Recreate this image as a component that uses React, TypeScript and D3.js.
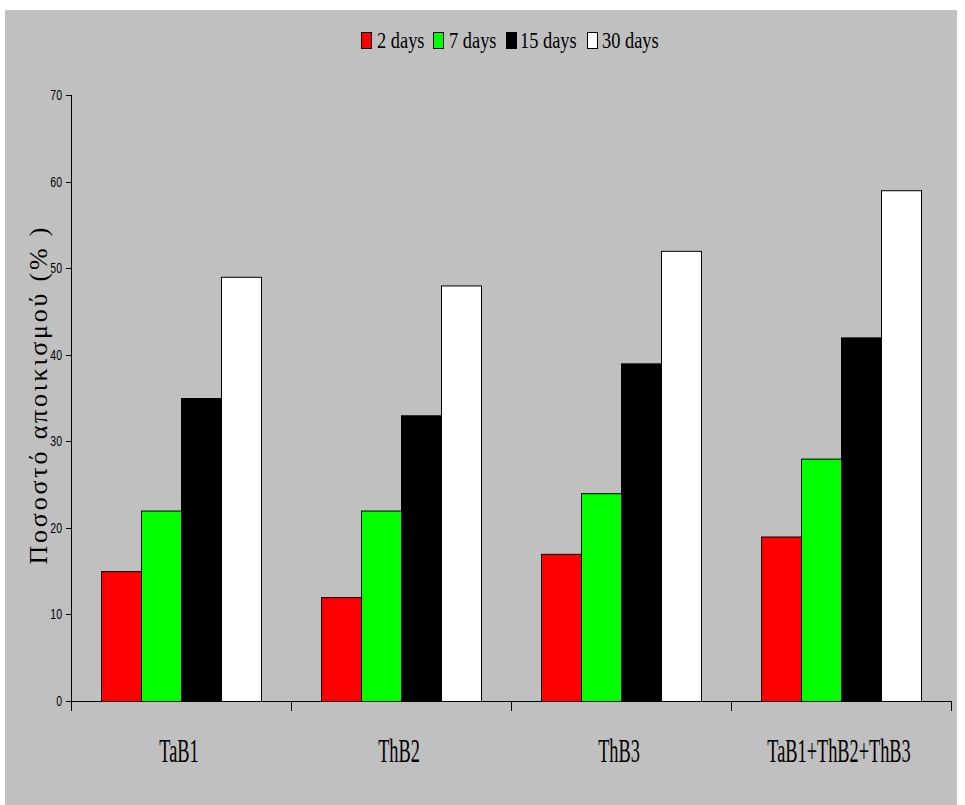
import React from 'react';
import * as d3 from 'd3';

// values
const categories = ['TaB1', 'ThB2', 'ThB3', 'TaB1+ThB2+ThB3'];
const seriesNames = ['2 days', '7 days', '15 days', '30 days'];
const seriesColors = ['#ff0000', '#00ff00', '#000000', '#ffffff'];
const values: number[][] = [
  [15, 12, 17, 19], // 2 days
  [22, 22, 24, 28], // 7 days
  [35, 33, 39, 42], // 15 days
  [49, 48, 52, 59], // 30 days
];
const yTicks = [0, 10, 20, 30, 40, 50, 60, 70];
const yTitle = 'Ποσοστό αποικισμού (% )';

const W = 965;
const H = 805;
const serif = '"Liberation Serif", "Times New Roman", serif';
const sans = '"Liberation Sans", Arial, sans-serif';

const App: React.FC = () => {
  const plot = { left: 71, right: 951, top: 95, bottom: 701 };

  const y = d3.scaleLinear().domain([0, 70]).range([plot.bottom, plot.top]);
  const x0 = d3.scaleBand<string>().domain(categories).range([plot.left, plot.right]).padding(0);
  const x1 = d3.scaleBand<string>()
    .domain(seriesNames)
    .range([0, x0.bandwidth()])
    .paddingInner(0)
    .paddingOuter(0.75);

  const legendItems = [
    { sx: 361, tx: 377 },
    { sx: 433, tx: 449 },
    { sx: 506, tx: 520 },
    { sx: 587, tx: 602 },
  ];

  return (
    <svg
      width={W}
      height={H}
      style={{ position: 'absolute', left: 0, top: 0, display: 'block', background: '#ffffff' }}
    >
      <rect x={5} y={10} width={952} height={795} fill="#c0c0c0" />

      {/* legend */}
      {seriesNames.map((name, i) => (
        <g key={name}>
          <rect
            x={legendItems[i].sx + 0.5}
            y={32.5}
            width={10}
            height={16}
            fill={seriesColors[i]}
            stroke="#000"
            strokeWidth={1}
          />
          <text
            transform={`translate(${legendItems[i].tx},48) scale(0.8,1)`}
            fontFamily={serif}
            fontSize={23}
            fill="#000"
          >
            {name}
          </text>
        </g>
      ))}

      {/* bars */}
      {categories.map((cat, ci) => (
        <g key={cat} transform={`translate(${x0(cat)},0)`}>
          {seriesNames.map((s, si) => {
            const v = values[si][ci];
            return (
              <rect
                key={s}
                x={(x1(s) ?? 0) + 0.5}
                y={y(v) + 0.5}
                width={x1.bandwidth()}
                height={y(0) - y(v)}
                fill={seriesColors[si]}
                stroke="#000"
                strokeWidth={1}
              />
            );
          })}
        </g>
      ))}

      {/* y axis */}
      <line x1={plot.left + 0.5} x2={plot.left + 0.5} y1={plot.top} y2={plot.bottom + 10} stroke="#000" />
      {yTicks.map(t => (
        <g key={t}>
          <line x1={plot.left - 5} x2={plot.left} y1={Math.round(y(t)) + 0.5} y2={Math.round(y(t)) + 0.5} stroke="#000" />
          <text
            transform={`translate(${plot.left - 9},${y(t) + 5}) scale(0.75,1)`}
            textAnchor="end"
            fontFamily={sans}
            fontSize={14}
            fill="#000"
          >
            {t}
          </text>
        </g>
      ))}

      {/* x axis */}
      <line x1={plot.left} x2={plot.right} y1={plot.bottom + 0.5} y2={plot.bottom + 0.5} stroke="#000" />
      {[...categories.map(c => x0(c) ?? 0), plot.right].map((px, i) => (
        <line key={i} x1={px + 0.5} x2={px + 0.5} y1={plot.bottom} y2={plot.bottom + 10} stroke="#000" />
      ))}
      {categories.map(cat => (
        <text
          key={cat}
          transform={`translate(${(x0(cat) ?? 0) + x0.bandwidth() / 2 - 2},762) scale(0.555,1)`}
          textAnchor="middle"
          fontFamily={serif}
          fontSize={33}
          fill="#000"
        >
          {cat}
        </text>
      ))}

      {/* y title */}
      <text
        transform="translate(47,396) rotate(-90)"
        textAnchor="middle"
        fontFamily={serif}
        fontSize={26}
        textLength={337}
        lengthAdjust="spacing"
        fill="#000"
      >
        {yTitle}
      </text>
    </svg>
  );
};

export default App;
